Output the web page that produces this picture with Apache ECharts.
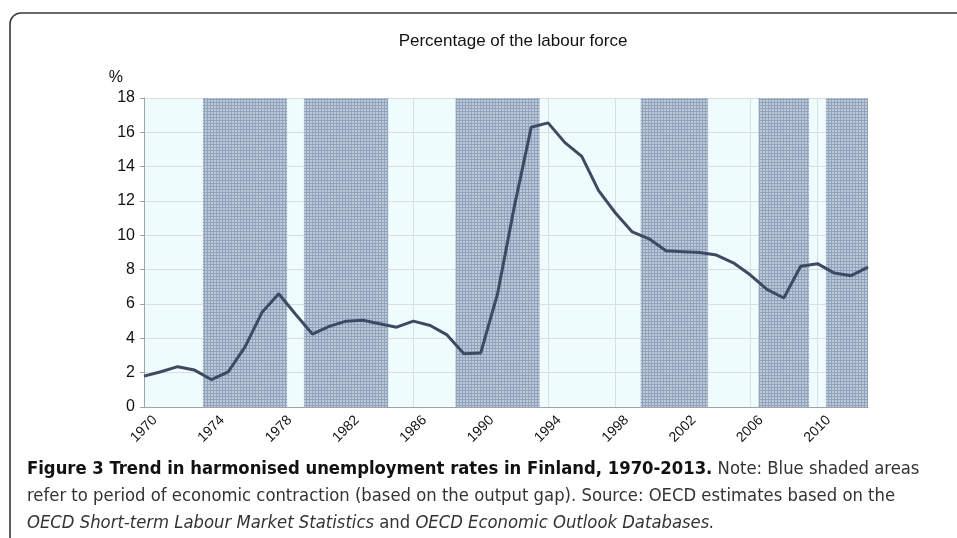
<!DOCTYPE html>
<html>
<head>
<meta charset="utf-8">
<script src="https://cdn.jsdelivr.net/npm/echarts@6/dist/echarts.min.js"></script>
<style>
  html, body { margin: 0; padding: 0; background: #fff; }
  #main { width: 957px; height: 538px; }
</style>
</head>
<body>
<div id="main"></div>
<script>
var years = [1970, 1971, 1972, 1973, 1974, 1975, 1976, 1977, 1978, 1979,
             1980, 1981, 1982, 1983, 1984, 1985, 1986, 1987, 1988, 1989,
             1990, 1991, 1992, 1993, 1994, 1995, 1996, 1997, 1998, 1999,
             2000, 2001, 2002, 2003, 2004, 2005, 2006, 2007, 2008, 2009,
             2010, 2011, 2012, 2013];
var rates = [1.8, 2.05, 2.35, 2.15, 1.6, 2.05, 3.5, 5.5, 6.6, 5.4,
             4.25, 4.7, 5.0, 5.05, 4.85, 4.65, 5.0, 4.75, 4.2, 3.1,
             3.15, 6.6, 11.7, 16.3, 16.55, 15.4, 14.6, 12.6, 11.3, 10.2,
             9.8, 9.1, 9.05, 9.0, 8.85, 8.4, 7.7, 6.85, 6.35, 8.2,
             8.35, 7.8, 7.65, 8.15];
// periods of economic contraction (start, end)
var contraction = [[1973.5, 1978.5], [1979.5, 1984.5], [1988.5, 1993.5],
                   [1999.5, 2003.5], [2006.5, 2009.5], [2010.5, 2013]];
var yMin = 0, yMax = 18, yStep = 2;
var labelStep = 4;

var firstYear = years[0];
var lastYear = years[years.length - 1];

// fine hatched texture for the shaded areas
var pat = document.createElement('canvas');
pat.width = 3; pat.height = 3;
var pc = pat.getContext('2d');
pc.fillStyle = '#bdc8d8';
pc.fillRect(0, 0, 3, 3);
pc.fillStyle = '#91a2bb';
pc.fillRect(0, 0, 1, 3);
pc.fillRect(0, 0, 3, 1);

var capFont = 'DejaVu Sans Condensed, Liberation Sans Narrow, sans-serif';

var myChart = echarts.init(document.getElementById('main'));

var option = {
    backgroundColor: '#fff',
    animation: false,
    title: {
        text: 'Percentage of the labour force',
        left: 508,
        textAlign: 'center',
        top: 28,
        textStyle: { fontFamily: 'Liberation Sans, Arial', fontSize: 17, fontWeight: 'normal', color: '#111' }
    },
    grid: {
        left: 144, right: 89, top: 98, bottom: 131,
        show: true, backgroundColor: '#effcfd', borderWidth: 0
    },
    xAxis: {
        type: 'value',
        min: 0,
        max: lastYear - firstYear,
        interval: labelStep,
        axisLine: { show: true, lineStyle: { color: '#9da3a8' } },
        axisTick: { show: false },
        splitLine: { show: true, showMaxLine: false, lineStyle: { color: '#dadede' } },
        axisLabel: {
            rotate: 45,
            align: 'center',
            verticalAlign: 'middle',
            margin: 22,
            fontFamily: 'Liberation Sans, Arial',
            fontSize: 14,
            color: '#111',
            showMaxLabel: false,
            formatter: function (v) {
                return (v % labelStep === 0 && v < lastYear - firstYear) ? String(firstYear + v) : '';
            }
        }
    },
    yAxis: {
        type: 'value',
        min: yMin,
        max: yMax,
        interval: yStep,
        name: '%',
        nameLocation: 'end',
        nameGap: 12,
        nameTextStyle: { fontFamily: 'Liberation Sans, Arial', fontSize: 16, color: '#111', align: 'right', padding: [0, 21, 0, 0] },
        axisLine: { show: true, lineStyle: { color: '#9da3a8' } },
        axisTick: { show: true, length: 4, lineStyle: { color: '#9da3a8' } },
        splitLine: { show: true, lineStyle: { color: '#dadede' } },
        axisLabel: { fontFamily: 'Liberation Sans, Arial', fontSize: 16, color: '#111', margin: 9 }
    },
    series: [
        {
            name: 'contraction',
            type: 'line',
            data: [],
            z: 1,
            silent: true,
            markArea: {
                silent: true,
                itemStyle: { color: { image: pat, repeat: 'repeat' } },
                data: contraction.map(function (p) {
                    return [{ xAxis: p[0] - firstYear }, { xAxis: p[1] - firstYear }];
                })
            }
        },
        {
            name: 'rate',
            type: 'line',
            z: 5,
            symbol: 'none',
            lineStyle: { color: '#3e4a62', width: 3 },
            data: years.map(function (y, i) { return [y - firstYear, rates[i]]; })
        }
    ],
    graphic: [
        {
            type: 'rect',
            shape: { x: 10, y: 13, width: 980, height: 560, r: [11, 0, 0, 0] },
            style: { fill: null, stroke: '#3a3a3a', lineWidth: 1.6 },
            silent: true
        },
        {
            type: 'text',
            left: 27,
            top: 456,
            style: {
                text: '{b|Figure 3 Trend in harmonised unemployment rates in Finland, 1970-2013.} Note: Blue shaded areas\n' +
                      'refer to period of economic contraction (based on the output gap). Source: OECD estimates based on the\n' +
                      '{i|OECD Short-term Labour Market Statistics} and {i|OECD Economic Outlook Databases.}',
                fontFamily: capFont,
                fontSize: 18.3,
                lineHeight: 27,
                fill: '#333',
                rich: {
                    b: { fontFamily: capFont, fontSize: 18.3, fontWeight: 'bold', fill: '#111', lineHeight: 27 },
                    i: { fontFamily: capFont, fontSize: 18.3, fontStyle: 'italic', fill: '#333', lineHeight: 27 }
                }
            }
        }
    ]
};

myChart.setOption(option);
</script>
</body>
</html>
